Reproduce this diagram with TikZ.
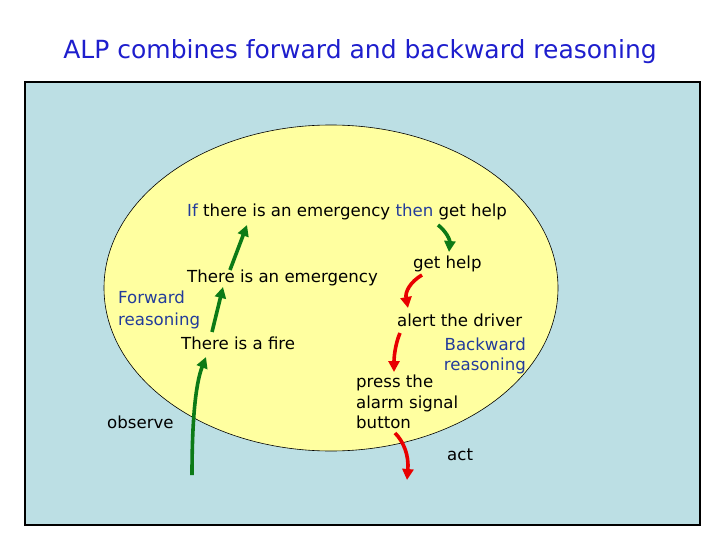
\documentclass[tikz,border=0pt]{standalone}
\usepackage{fontspec}
\setmainfont{DejaVu Sans}
\usetikzlibrary{arrows.meta,positioning}
\usepackage{xcolor}

\definecolor{bgblue}{RGB}{188,223,228}
\definecolor{ellyellow}{RGB}{255,255,160}
\definecolor{titleblue}{RGB}{30,30,205}
\definecolor{labblue}{RGB}{35,60,155}
\definecolor{fwgreen}{RGB}{12,122,22}
\definecolor{bwred}{RGB}{232,0,0}

\begin{document}
\begin{tikzpicture}[x=1pt, y=-1pt,
    every node/.style={font=\fontsize{16.6}{20}\selectfont, inner sep=0pt, anchor=base west},
    title/.style={font=\fontsize{25}{30}\selectfont, text=titleblue, anchor=base},
    bluetxt/.style={text=labblue},
    fwd/.style={draw=fwgreen, line width=3.6pt, -{Triangle[length=11pt,width=11pt]}},
    bwd/.style={draw=bwred, line width=3.6pt, -{Triangle[length=11pt,width=11pt]}}
]
    \useasboundingbox (0,0) rectangle (720,540);

    % Title
    \node[title] (ttl) at (360,59) {ALP combines forward and backward reasoning};

    % Background and world model
    \draw[fill=bgblue, line width=1.1pt] (25,82) rectangle (700,525);
    \draw[fill=ellyellow, line width=0.6pt] (331,288) ellipse [x radius=227, y radius=163];

    % Goal
    \node (rule) at (187,217) {\textcolor{labblue}{If} there is an emergency \textcolor{labblue}{then} get help};

    % Forward side
    \node (emerg) at (187,282) {There is an emergency};
    \node[bluetxt] (fwdA) at (118,303) {Forward};
    \node[bluetxt] (fwdB) at (118,325) {reasoning};
    \node (fire) at (181,349) {There is a fire};
    \node (obs) at (107,428) {observe};

    % Backward side
    \node (help) at (413,268) {get help};
    \node (alert) at (397,326) {alert the driver};
    \node[bluetxt, anchor=base east] (bwdA) at (526,350) {Backward};
    \node[bluetxt, anchor=base east] (bwdB) at (526,370) {reasoning};
    \node (pressA) at (356,387) {press the};
    \node (pressB) at (356,408) {alarm signal};
    \node (pressC) at (356,428) {button};
    \node (act) at (447,460) {act};

    % Arrow ends
    \coordinate (obsin) at (192,475);
    \coordinate (firetop) at (206,357);
    \coordinate (firesrc) at (212,332);
    \coordinate (emergin) at (223,287);
    \coordinate (emergsrc) at (230,270);
    \coordinate (rulein) at (247,225);
    \coordinate (rulesrc) at (438,225);
    \coordinate (helpin) at (449,252);
    \coordinate (helpsrc) at (422,275);
    \coordinate (alertin) at (408,308);
    \coordinate (alertsrc) at (400,333);
    \coordinate (pressin) at (394,372);
    \coordinate (presssrc) at (395,433);
    \coordinate (actout) at (407,480);

    % Forward reasoning
    \draw[fwd] (obsin) .. controls (192,410) and (197,380) .. (firetop);
    \draw[fwd] (firesrc) -- (emergin);
    \draw[fwd] (emergsrc) -- (rulein);
    \draw[fwd] (rulesrc) .. controls (446,231) and (450,240) .. (helpin);

    % Backward reasoning
    \draw[bwd] (helpsrc) .. controls (410,282) and (405,292) .. (alertin);
    \draw[bwd] (alertsrc) .. controls (396,342) and (394,355) .. (pressin);
    \draw[bwd] (presssrc) .. controls (404,442) and (409,456) .. (actout);
\end{tikzpicture}
\end{document}
